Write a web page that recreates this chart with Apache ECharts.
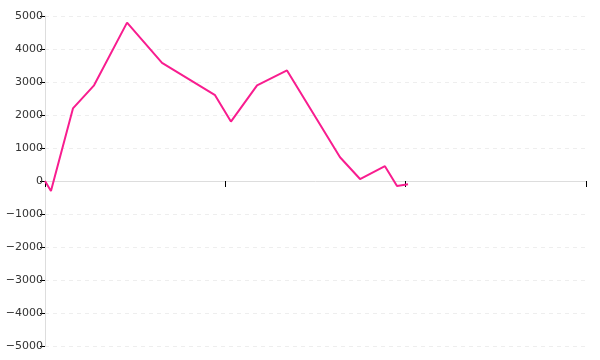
<!DOCTYPE html>
<html><head><meta charset="utf-8">
<script src="https://cdn.jsdelivr.net/npm/echarts@6/dist/echarts.min.js"></script>
<style>html,body{margin:0;padding:0;background:#fff}#c{width:600px;height:360px}</style>
</head><body><div id="c"></div>
<script>
const xValues = [0, 0.033, 0.155, 0.272, 0.455, 0.649, 0.943, 1.031, 1.176, 1.342, 1.636, 1.747, 1.885, 1.952, 2.013];
const yValues = [0, -300, 2200, 2900, 4800, 3580, 2600, 1800, 2900, 3350, 720, 60, 450, -150, -100];
const yTicks = [-5000, 5000, 1000];
const xTicks = [0, 3, 1];

const chart = echarts.init(document.getElementById('c'), null, {renderer: 'canvas'});
const data = xValues.map((x, i) => [x, yValues[i]]);
chart.setOption({
  animation: false,
  grid: {left: 45, right: 14, top: 16, bottom: 14, containLabel: false},
  xAxis: {
    type: 'value', min: xTicks[0], max: xTicks[1], interval: xTicks[2],
    axisLine: {onZero: true, lineStyle: {color: '#dddddd', width: 1}},
    axisTick: {show: true, length: 6, lineStyle: {color: '#000', width: 1}},
    axisLabel: {show: false},
    splitLine: {show: false}
  },
  yAxis: {
    type: 'value', min: yTicks[0], max: yTicks[1], interval: yTicks[2],
    axisLine: {show: true, lineStyle: {color: '#dddddd'}},
    axisTick: {show: true, length: 5, lineStyle: {color: '#000'}},
    axisLabel: {color: '#333', fontSize: 11, fontFamily: 'DejaVu Sans', margin: 2,
      formatter: v => String(v).replace('-', '\u2212')},
    splitLine: {show: true, lineStyle: {color: '#eeeeee', type: [4, 4]}}
  },
  series: [{
    type: 'line', data: data, showSymbol: false, symbol: 'none',
    lineStyle: {color: '#f81d8f', width: 2}, itemStyle: {color: '#f81d8f'}
  }]
});
</script></body></html>
